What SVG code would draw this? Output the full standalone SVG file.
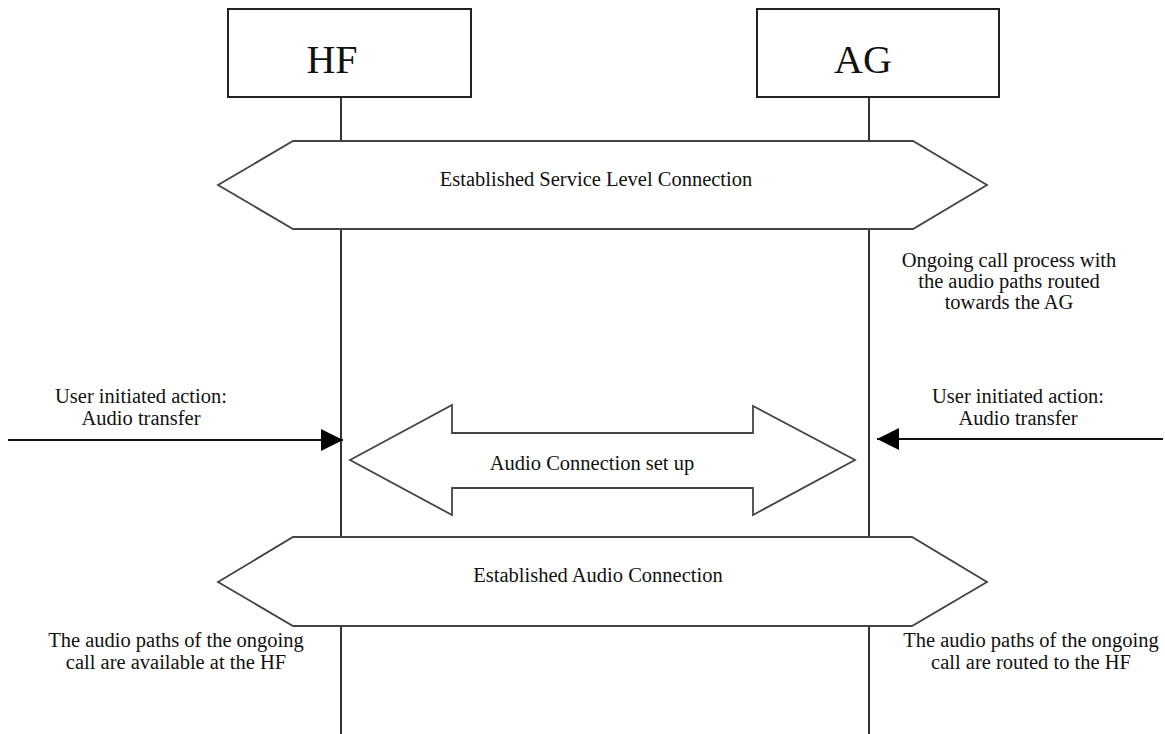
<svg xmlns="http://www.w3.org/2000/svg" width="1165" height="734" viewBox="0 0 1165 734">
<style>
  .box{fill:#fff;stroke:#222;stroke-width:2}
  .life{stroke:#333;stroke-width:2;fill:none}
  .hex{fill:#fff;stroke:#444;stroke-width:1.8}
  .msg{stroke:#111;stroke-width:2;fill:none}
  .t{font-family:"Liberation Serif","Times New Roman",serif;font-size:20.5px;fill:#111;text-anchor:middle}
  .big{font-family:"Liberation Serif","Times New Roman",serif;font-size:40px;fill:#111;text-anchor:middle}
</style>
<defs>
  <marker id="ah" viewBox="0 0 22 22" refX="22" refY="11" markerWidth="22" markerHeight="22" markerUnits="userSpaceOnUse" orient="auto">
    <path d="M0,0 L22,11 L0,22 Z" fill="#000"/>
  </marker>
</defs>
<rect width="1165" height="734" fill="#fff"/>
<g id="lifelines">
  <path class="life" d="M341,97 V734"/>
  <path class="life" d="M869,97 V734"/>
</g>
<g id="HF">
  <rect class="box" x="228" y="9" width="243" height="88"/>
  <text class="big" x="332" y="73">HF</text>
</g>
<g id="AG">
  <rect class="box" x="757" y="9" width="242" height="88"/>
  <text class="big" x="863" y="73">AG</text>
</g>
<g id="slc">
  <polygon class="hex" points="218,185 293,141 913,141 987,185 913,229 293,229"/>
  <text class="t" x="596" y="186">Established Service Level Connection</text>
</g>
<g id="ongoing-note">
  <text class="t" x="1009" y="267">Ongoing call process with</text>
  <text class="t" x="1009" y="288">the audio paths routed</text>
  <text class="t" x="1009" y="309">towards the AG</text>
</g>
<g id="user-left">
  <text class="t" x="141" y="403">User initiated action:</text>
  <text class="t" x="141" y="425">Audio transfer</text>
</g>
<g id="user-right">
  <text class="t" x="1018" y="403">User initiated action:</text>
  <text class="t" x="1018" y="425">Audio transfer</text>
</g>
<g id="audio-setup">
  <polygon class="hex" points="350,460 452,405 452,433 753,433 753,406 855,460 753,515 753,488 452,488 452,515"/>
  <text class="t" x="592" y="470">Audio Connection set up</text>
</g>
<g id="eac">
  <polygon class="hex" points="218,582 293,537 912,537 987,582 912,626 293,626"/>
  <text class="t" x="598" y="582">Established Audio Connection</text>
</g>
<g id="note-left">
  <text class="t" x="176" y="647">The audio paths of the ongoing</text>
  <text class="t" x="176" y="669">call are available at the HF</text>
</g>
<g id="note-right">
  <text class="t" x="1031" y="647">The audio paths of the ongoing</text>
  <text class="t" x="1031" y="669">call are routed to the HF</text>
</g>
<g id="connectors">
  <line class="msg" x1="8" y1="440" x2="343" y2="440" marker-end="url(#ah)"/>
  <line class="msg" x1="1163" y1="439" x2="877" y2="439" marker-end="url(#ah)"/>
</g>
</svg>
